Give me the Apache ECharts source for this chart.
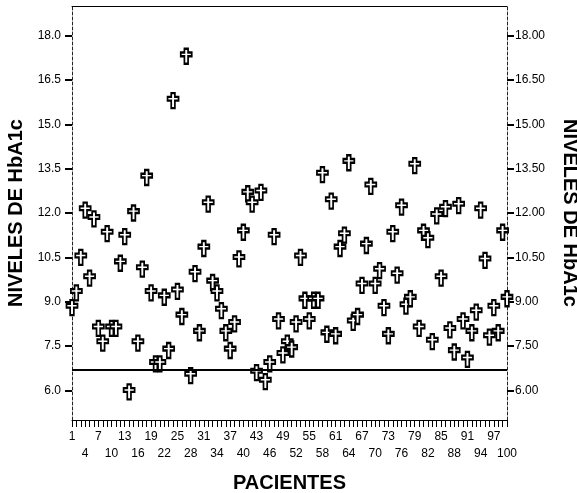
<!DOCTYPE html>
<html>
<head>
<meta charset="utf-8">
<script src="https://cdn.jsdelivr.net/npm/echarts@6/dist/echarts.min.js"></script>
<style>
  html, body { margin: 0; padding: 0; background: #fff; }
  #chart { width: 577px; height: 493px; }
</style>
</head>
<body>
<div id="chart"></div>
<script>
// pacientes 1..100
const pacientes = Array.from({ length: 100 }, (_, i) => String(i + 1))

// niveles de HbA1c
const hba1c = [
  8.8, 9.3, 10.5, 12.1, 9.8, 11.8, 8.1, 7.6, 11.3, 8.1,
  8.1, 10.3, 11.2, 5.95, 12.0, 7.6, 10.1, 13.2, 9.3, 6.9,
  6.9, 9.15, 7.35, 15.8, 9.35, 8.5, 17.3, 6.5, 9.95, 7.95,
  10.8, 12.3, 9.65, 9.3, 8.7, 7.95, 7.35, 8.25, 10.45, 11.35,
  12.65, 12.3, 6.6, 12.7, 6.3, 6.9, 11.2, 8.35, 7.2, 7.6,
  7.4, 8.25, 10.5, 9.05, 8.35, 9.05, 9.05, 13.3, 7.9, 12.4,
  7.85, 10.8, 11.25, 13.7, 8.3, 8.5, 9.55, 10.9, 12.9, 9.55,
  10.05, 8.8, 7.85, 11.3, 9.9, 12.2, 8.85, 9.1, 13.6, 8.1,
  11.35, 11.1, 7.65, 11.9, 9.8, 12.15, 8.05, 7.3, 12.25, 8.35,
  7.05, 7.95, 8.65, 12.1, 10.4, 7.8, 8.8, 7.95, 11.35, 9.1
]

const lineaRef = 6.7
const yTicks = [6, 7.5, 9, 10.5, 12, 13.5, 15, 16.5, 18]

const font = 'Liberation Sans, Arial, sans-serif'
// cruz latina (contorno negro, relleno blanco)
const cruz = 'path://M4,0L8,0L8,4L12,4L12,8L8,8L8,16L4,16L4,8L0,8L0,4L4,4Z'

const chart = echarts.init(document.getElementById('chart'))

const labelStyle = { fontFamily: font, fontSize: 12, color: '#000' }
const nameStyle = { fontFamily: font, fontWeight: 'bold', fontSize: 20, color: '#000' }

// etiquetas escalonadas: fila de arriba 1, 7, 13...; fila de abajo 4, 10, 16...
const filaArriba = i => i % 6 === 0
const filaAbajo = i => i % 6 === 3

const yBase = {
  type: 'value',
  min: 5,
  max: 19,
  splitLine: { show: false },
  axisLine: { show: true, lineStyle: { color: '#222', width: 1, type: [3, 2] } },
  axisTick: { show: true, customValues: yTicks, length: 7, lineStyle: { color: '#000', width: 2 } },
  nameLocation: 'middle',
  nameTextStyle: nameStyle
}

chart.setOption({
  animation: false,
  backgroundColor: '#fff',
  grid: { left: 72, right: 70, top: 6, bottom: 73, outerBoundsMode: 'none' },
  xAxis: [
    {
      type: 'category',
      data: pacientes,
      boundaryGap: false,
      position: 'bottom',
      name: 'PACIENTES',
      nameLocation: 'middle',
      nameGap: 53,
      nameTextStyle: nameStyle,
      axisLine: { show: true, lineStyle: { color: '#000', width: 1 } },
      axisTick: { show: true, interval: 0, length: 7, lineStyle: { color: '#000', width: 1 } },
      axisLabel: Object.assign({ interval: filaArriba, margin: 11, showMinLabel: true }, labelStyle),
      splitLine: { show: false }
    },
    {
      type: 'category',
      data: pacientes,
      boundaryGap: false,
      position: 'bottom',
      axisLine: { show: false },
      axisTick: { show: false },
      axisLabel: Object.assign({ interval: filaAbajo, margin: 28, showMaxLabel: true }, labelStyle)
    },
    {
      type: 'category',
      data: pacientes,
      boundaryGap: false,
      position: 'top',
      axisLine: { show: true, lineStyle: { color: '#000', width: 1 } },
      axisTick: { show: false },
      axisLabel: { show: false }
    }
  ],
  yAxis: [
    Object.assign({}, yBase, {
      position: 'left',
      name: 'NIVELES DE HbA1c',
      nameGap: 46,
      nameRotate: 90,
      axisLabel: Object.assign({ customValues: yTicks, margin: 11, formatter: v => v.toFixed(1) }, labelStyle)
    }),
    Object.assign({}, yBase, {
      position: 'right',
      name: 'NIVELES DE HbA1c',
      nameGap: 53,
      nameRotate: -90,
      axisLabel: Object.assign({ customValues: yTicks, margin: 8, formatter: v => v.toFixed(2) }, labelStyle)
    })
  ],
  series: [
    {
      type: 'scatter',
      xAxisIndex: 0,
      yAxisIndex: 0,
      data: hba1c,
      symbol: cruz,
      symbolSize: [11, 15],
      itemStyle: { color: '#fff', borderColor: '#000', borderWidth: 2, opacity: 1 },
      markLine: {
        silent: true,
        symbol: 'none',
        label: { show: false },
        lineStyle: { color: '#000', width: 2, type: 'solid' },
        data: [{ yAxis: lineaRef }]
      },
      z: 3
    }
  ]
})
</script>
</body>
</html>
